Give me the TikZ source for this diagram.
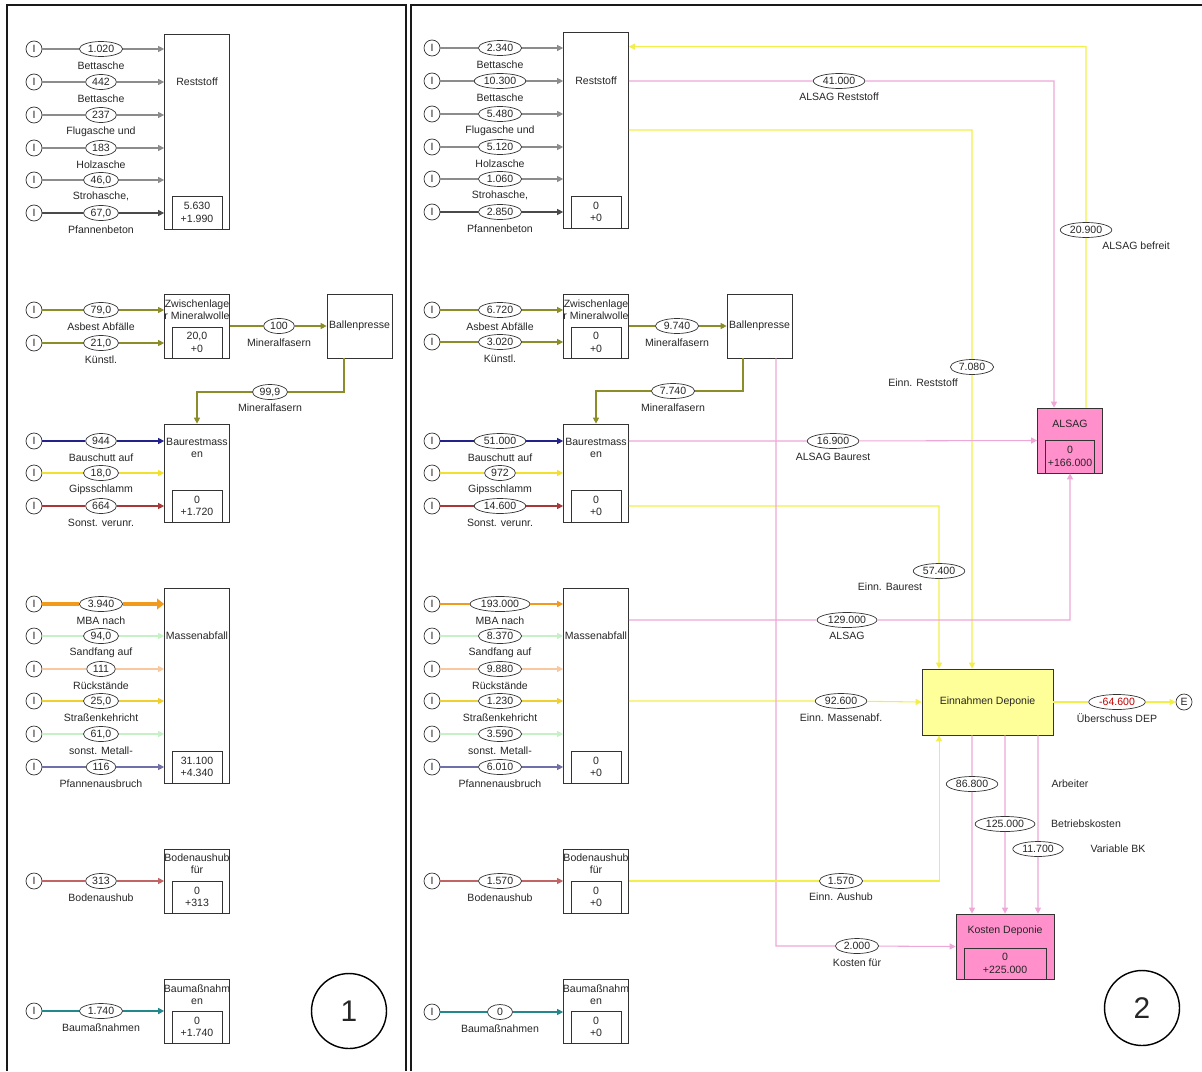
\documentclass[tikz,border=0pt]{standalone}
\usepackage{fontspec}
\setmainfont{Liberation Sans}
\usetikzlibrary{shapes.geometric, arrows.meta, positioning}

\definecolor{fgray}{HTML}{8C8C8C}
\definecolor{fdark}{HTML}{4A4A4A}
\definecolor{folive}{HTML}{8C8C28}
\definecolor{fblue}{HTML}{22228A}
\definecolor{fyellow}{HTML}{F2E030}
\definecolor{fred}{HTML}{A83838}
\definecolor{forange}{HTML}{F09A1E}
\definecolor{fmint}{HTML}{C6F0C6}
\definecolor{fpeach}{HTML}{F8C8A0}
\definecolor{fgold}{HTML}{EED030}
\definecolor{fslate}{HTML}{7070A8}
\definecolor{fbrick}{HTML}{C06464}
\definecolor{fteal}{HTML}{22888C}
\definecolor{mpink}{HTML}{EEA8D8}
\definecolor{myellow}{HTML}{F2EE4A}
\definecolor{boxpink}{HTML}{FF90CC}
\definecolor{boxyellow}{HTML}{FFFF99}

\begin{document}
\begin{tikzpicture}[
  x=0.02cm, y=-0.02cm,
  font=\fontsize{6}{7}\selectfont,
  every node/.style={text=black!85},
  src/.style={circle, draw=black!80, fill=white, minimum size=0.32cm, inner sep=0pt},
  val/.style={ellipse, draw=black!80, fill=white, minimum height=0.3cm, minimum width=0.5cm, inner xsep=1.2pt, inner ysep=0pt},
  lbl/.style={inner sep=0pt},
  proc/.style={draw=black!80, fill=white, minimum width=1.3cm, inner sep=0pt},
  stock/.style={draw=black!80, fill=white, minimum width=1.0cm, inner sep=0pt, align=center, anchor=south},
  ttl/.style={inner sep=0pt, align=center},
  flow/.style={line width=0.6pt, -{Triangle[length=3.4pt, width=3.4pt]}},
  money/.style={flow},
  mbathick/.style={draw=forange, line width=2.8pt, -{Triangle[length=4pt, width=6pt]}},
  mbamid/.style={draw=forange, line width=1pt},
  tealthick/.style={draw=fteal, line width=1.2pt},
  frame/.style={line width=1.2pt, black!90},
  bignum/.style={circle, draw=black, line width=0.8pt, minimum size=1.5cm, inner sep=0pt, font=\fontsize{17}{20}\selectfont},
]
  \useasboundingbox (0,0) rectangle (1202,1071);

  % --- panel frames ---
  \draw[frame] (7,1071) -- (7,5) -- (406,5) -- (406,1071);
  \draw[frame] (411,1071) -- (411,5) -- (1202,5);

  % ===== panel 1 =====
  \node[proc, minimum height=3.9cm] (L-rest) at (197,131.5) {};
  \node[ttl] (L-rest-t) at (197,82) {Reststoff};
  \node[stock, minimum height=0.66cm] (L-rest-s) at (L-rest.south) {5.630\\+1.990};

  \node[proc, minimum height=1.28cm] (L-zw) at (197,326) {};
  \node[ttl] (L-zw-t) at (197,310) {Zwischenlage\\r Mineralwolle};
  \node[stock, minimum height=0.62cm] (L-zw-s) at (L-zw.south) {20,0\\+0};

  \node[proc, minimum height=1.28cm] (L-ball) at (359.5,326) {Ballenpresse};

  \node[proc, minimum height=1.96cm] (L-bau) at (197,473) {};
  \node[ttl] (L-bau-t) at (197,448) {Baurestmass\\en};
  \node[stock, minimum height=0.64cm] (L-bau-s) at (L-bau.south) {0\\+1.720};

  \node[proc, minimum height=3.9cm] (L-mas) at (197,685.5) {};
  \node[ttl] (L-mas-t) at (197,636) {Massenabfall};
  \node[stock, minimum height=0.64cm] (L-mas-s) at (L-mas.south) {31.100\\+4.340};

  \node[proc, minimum height=1.28cm] (L-bod) at (197,881) {};
  \node[ttl] (L-bod-t) at (197,864) {Bodenaushub\\für};
  \node[stock, minimum height=0.64cm] (L-bod-s) at (L-bod.south) {0\\+313};

  \node[proc, minimum height=1.28cm] (L-bm) at (197,1011) {};
  \node[ttl] (L-bm-t) at (197,995) {Baumaßnahm\\en};
  \node[stock, minimum height=0.64cm] (L-bm-s) at (L-bm.south) {0\\+1.740};

  % inputs
  \foreach \y/\val/\lab/\col/\tgt in {
      49/1.020/Bettasche/fgray/rest, 82/442/Bettasche/fgray/rest,
      115/237/Flugasche und/fgray/rest, 148/183/Holzasche/fgray/rest,
      180/{46,0}/{Strohasche,}/fgray/rest, 213/{67,0}/Pfannenbeton/fdark/rest,
      310/{79,0}/Asbest Abfälle/folive/zw, 343/{21,0}/Künstl./folive/zw,
      441/944/Bauschutt auf/fblue/bau, 473/{18,0}/Gipsschlamm/fyellow/bau,
      506/664/Sonst. verunr./fred/bau,
      604/3.940/MBA nach/mbathick/mas, 636/{94,0}/Sandfang auf/fmint/mas,
      669/111/Rückstände/fpeach/mas, 701/{25,0}/Straßenkehricht/fgold/mas,
      734/{61,0}/sonst. Metall-/fmint/mas, 767/116/Pfannenausbruch/fslate/mas,
      881/313/Bodenaushub/fbrick/bod, 1011/1.740/Baumaßnahmen/tealthick/bm} {
    \node[src] (L-i\y) at (34,\y) {I};
    \node[val] (L-v\y) at (101,\y) {\val};
    \node[lbl] (L-l\y) at (101,\y+16.5) {\lab};
    \draw[flow, \col] (L-i\y) -- (L-v\y) -- (L-i\y -| L-\tgt.west);
  }

  % mineral wool
  \node[val] (L-m1) at (279,326) {100};
  \node[lbl] (L-m1l) at (279,343) {Mineralfasern};
  \draw[flow, folive] (L-zw.east) -- (L-m1) -- (L-ball.west);
  \node[val] (L-m2) at (270,392) {99,9};
  \node[lbl] (L-m2l) at (270,408) {Mineralfasern};
  \draw[flow, folive] ([xshift=-0.31cm]L-ball.south) |- (L-m2) -| (L-bau.north);

  \node[bignum] (L-num) at (349,1011) {1};

  % ===== panel 2 =====
  \node[proc, minimum height=3.92cm] (R-rest) at (596,130) {};
  \node[ttl] (R-rest-t) at (596,81) {Reststoff};
  \node[stock, minimum height=0.64cm] (R-rest-s) at (R-rest.south) {0\\+0};

  \node[proc, minimum height=1.28cm] (R-zw) at (596,326) {};
  \node[ttl] (R-zw-t) at (596,310) {Zwischenlage\\r Mineralwolle};
  \node[stock, minimum height=0.62cm] (R-zw-s) at (R-zw.south) {0\\+0};

  \node[proc, minimum height=1.28cm] (R-ball) at (759.5,326) {Ballenpresse};

  \node[proc, minimum height=1.96cm] (R-bau) at (596,473) {};
  \node[ttl] (R-bau-t) at (596,448) {Baurestmass\\en};
  \node[stock, minimum height=0.64cm] (R-bau-s) at (R-bau.south) {0\\+0};

  \node[proc, minimum height=3.9cm] (R-mas) at (596,685.5) {};
  \node[ttl] (R-mas-t) at (596,636) {Massenabfall};
  \node[stock, minimum height=0.64cm] (R-mas-s) at (R-mas.south) {0\\+0};

  \node[proc, minimum height=1.28cm] (R-bod) at (596,881) {};
  \node[ttl] (R-bod-t) at (596,864) {Bodenaushub\\für};
  \node[stock, minimum height=0.64cm] (R-bod-s) at (R-bod.south) {0\\+0};

  \node[proc, minimum height=1.28cm] (R-bm) at (596,1011) {};
  \node[ttl] (R-bm-t) at (596,995) {Baumaßnahm\\en};
  \node[stock, minimum height=0.64cm] (R-bm-s) at (R-bm.south) {0\\+0};

  % inputs
  \foreach \y/\val/\lab/\col/\tgt in {
      48/2.340/Bettasche/fgray/rest, 81/10.300/Bettasche/fgray/rest,
      114/5.480/Flugasche und/fgray/rest, 147/5.120/Holzasche/fgray/rest,
      179/1.060/{Strohasche,}/fgray/rest, 212/2.850/Pfannenbeton/fdark/rest,
      310/6.720/Asbest Abfälle/folive/zw, 342/3.020/Künstl./folive/zw,
      441/51.000/Bauschutt auf/fblue/bau, 473/972/Gipsschlamm/fyellow/bau,
      506/14.600/Sonst. verunr./fred/bau,
      604/193.000/MBA nach/mbamid/mas, 636/8.370/Sandfang auf/fmint/mas,
      669/9.880/Rückstände/fpeach/mas, 701/1.230/Straßenkehricht/fgold/mas,
      734/3.590/sonst. Metall-/fmint/mas, 767/6.010/Pfannenausbruch/fslate/mas,
      881/1.570/Bodenaushub/fbrick/bod, 1012/0/Baumaßnahmen/fteal/bm} {
    \node[src] (R-i\y) at (432,\y) {I};
    \node[val] (R-v\y) at (500,\y) {\val};
    \node[lbl] (R-l\y) at (500,\y+16.5) {\lab};
    \draw[flow, \col] (R-i\y) -- (R-v\y) -- (R-i\y -| R-\tgt.west);
  }

  % mineral wool
  \node[val] (R-m1) at (677,326) {9.740};
  \node[lbl] (R-m1l) at (677,343) {Mineralfasern};
  \draw[flow, folive] (R-zw.east) -- (R-m1) -- (R-ball.west);
  \node[val] (R-m2) at (673,391) {7.740};
  \node[lbl] (R-m2l) at (673,408) {Mineralfasern};
  \draw[flow, folive] ([xshift=-0.33cm]R-ball.south) |- (R-m2) -| (R-bau.north);

  % --- cost / income boxes ---
  \node[proc, fill=boxpink, minimum height=1.3cm] (R-alsag) at (1070,440.5) {};
  \node[ttl] (R-alsag-t) at (1070,424) {ALSAG};
  \node[stock, fill=boxpink, minimum width=0.98cm, minimum height=0.66cm] (R-alsag-s) at (R-alsag.south) {0\\+166.000};

  \node[proc, fill=boxyellow, minimum width=2.62cm, minimum height=1.32cm] (R-ein) at (987.5,702) {Einnahmen Deponie};

  \node[proc, fill=boxpink, minimum width=1.96cm, minimum height=1.3cm] (R-kost) at (1005,946.5) {};
  \node[ttl] (R-kost-t) at (1005,931) {Kosten Deponie};
  \node[stock, fill=boxpink, minimum width=1.64cm, minimum height=0.62cm] (R-kost-s) at (R-kost.south) {0\\+225.000};

  \node[src] (R-end) at (1184,702) {E};

  % money values
  \foreach \n/\x/\y/\val/\lx/\ly/\lab in {
      befreit/1086/230/20.900/1136/246/ALSAG befreit,
      alsrest/839/81/41.000/839/97/ALSAG Reststoff,
      einrest/972/367/7.080/923/383/Einn. Reststoff,
      alsbau/833/441/16.900/833/457/ALSAG Baurest,
      einbau/939/571/57.400/890/587/Einn. Baurest,
      alsmas/847/620/129.000/847/636/ALSAG,
      einmas/841/701/92.600/841/718/Einn. Massenabf.,
      kost/857/946/2.000/857/963/Kosten für,
      einaus/841/881/1.570/841/897/Einn. Aushub,
      arb/972/784/86.800/1070/784/Arbeiter,
      betr/1005/824/125.000/1086/824/Betriebskosten,
      var/1038/849/11.700/1118/849/Variable BK} {
    \node[val] (m-\n) at (\x,\y) {\val};
    \node[lbl] (m-\n-l) at (\lx,\ly) {\lab};
  }
  \node[val, text=red!75!black] (m-ueber) at (1117,702) {-64.600};
  \node[lbl] (m-ueber-l) at (1117,718) {Überschuss DEP};

  % money flows
  \draw[money, myellow] ([xshift=0.32cm]R-alsag.north) -- (m-befreit) |- ([yshift=-0.3cm]R-rest.north east);
  \draw[money, mpink] ([yshift=0.98cm]R-rest.east) -- (m-alsrest) -| ([xshift=-0.32cm]R-alsag.north);
  \draw[money, myellow] (R-rest.east) -| (m-einrest) -- ([xshift=-0.31cm]R-ein.north);
  \draw[money, mpink] ([yshift=0.64cm]R-bau.east) -- (m-alsbau) -- (R-alsag.west);
  \draw[money, myellow] ([yshift=-0.66cm]R-bau.east) -| (m-einbau) -- ([xshift=-0.97cm]R-ein.north);
  \draw[money, mpink] ([yshift=1.31cm]R-mas.east) -- (m-alsmas) -| (R-alsag.south);
  \draw[money, myellow] ([yshift=-0.31cm]R-mas.east) -- (m-einmas) -- (R-ein.west);
  \draw[money, mpink] ([xshift=0.33cm]R-ball.south) |- (m-kost) -- (R-kost.west);
  \draw[money, myellow] (R-bod.east) -- (m-einaus) -| ([xshift=-0.97cm]R-ein.south);
  \draw[money, myellow] (R-ein.east) -- (m-ueber) -- (R-end);
  \draw[money, mpink] ([xshift=-0.31cm]R-ein.south) -- (m-arb) -- ([xshift=-0.66cm]R-kost.north);
  \draw[money, mpink] ([xshift=0.35cm]R-ein.south) -- (m-betr) -- (R-kost.north);
  \draw[money, mpink] ([xshift=1.01cm]R-ein.south) -- (m-var) -- ([xshift=0.66cm]R-kost.north);

  \node[bignum] (R-num) at (1142,1008) {2};
\end{tikzpicture}
\end{document}
